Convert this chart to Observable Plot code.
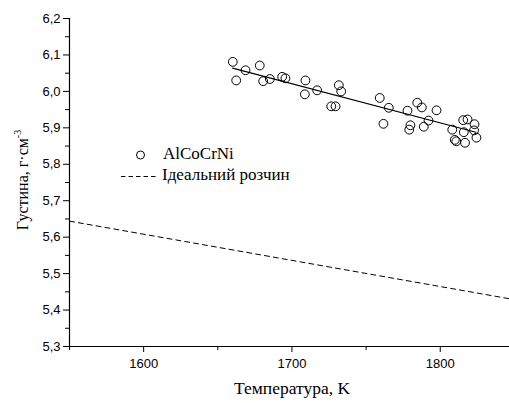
<!DOCTYPE html>
<html><head><meta charset="utf-8">
<script src="https://cdn.jsdelivr.net/npm/d3@7"></script>
<script src="https://cdn.jsdelivr.net/npm/@observablehq/plot@0.6"></script>
<style>body{margin:0;background:#fff}</style>
</head><body><div id="chart"></div>
<script>
// Measured points (AlCoCrNi)
const temperature = [1660.1,1662.4,1668.7,1678.3,1680.6,1685.1,1693.4,1695.6,1709.1,1708.7,1717.0,1726.5,1729.4,1731.6,1733.2,1759.2,1761.7,1765.3,1777.9,1779.9,1779.1,1784.5,1787.6,1788.9,1792.1,1797.5,1808.1,1809.8,1810.8,1815.5,1818.4,1815.9,1816.7,1823.1,1822.8,1824.4];
const density = [6.081,6.030,6.058,6.071,6.028,6.034,6.040,6.036,6.030,5.992,6.003,5.959,5.959,6.017,6.000,5.982,5.911,5.955,5.947,5.907,5.895,5.969,5.956,5.903,5.920,5.948,5.895,5.867,5.863,5.921,5.923,5.888,5.859,5.910,5.893,5.873];
// Fitted line through measurements
const fitT = [1660, 1824];
const fitD = [6.064, 5.888];
// Ideal solution line
const idealT = [1550, 1846.7];
const idealD = [5.644, 5.431];
// Ticks
const xMajor = [1600, 1700, 1800];
const xMinor = [1550, 1650, 1750];
const yMajor = [5.3, 5.4, 5.5, 5.6, 5.7, 5.8, 5.9, 6.0, 6.1, 6.2];
const yMinor = [5.35, 5.45, 5.55, 5.65, 5.75, 5.85, 5.95, 6.05, 6.15];
// Texts
const seriesNames = ["AlCoCrNi", "Ідеальний розчин"];
const xTitle = "Температура, K";
const yTitle = "Густина, г·см";
const yTitleSup = "-3";

const points = temperature.map((t, i) => ({t, d: density[i]}));
const fit = fitT.map((t, i) => ({t, d: fitD[i]}));
const ideal = idealT.map((t, i) => ({t, d: idealD[i]}));
const fmt = d => d.toFixed(1).replace(".", ",");

const W = 509, H = 403, ML = 69, MR = 0, MT = 18, MB = 57;

const chart = Plot.plot({
  width: W, height: H,
  marginLeft: ML, marginRight: MR, marginTop: MT, marginBottom: MB,
  x: {domain: [1550, 1846.7]},
  y: {domain: [5.3, 6.2]},
  style: {fontFamily: "'Liberation Sans', Arial, sans-serif", fontSize: "13px", color: "black", background: "white"},
  marks: [
    Plot.axisX(xMajor, {tickSize: 6, tickPadding: 6, tickFormat: d => String(d), label: null, fontSize: 13}),
    Plot.axisX(xMinor, {tickSize: 4, tickFormat: () => "", label: null}),
    Plot.axisY(yMajor, {tickSize: 6, tickPadding: 3, tickFormat: fmt, label: null, fontSize: 13}),
    Plot.axisY(yMinor, {tickSize: 4, tickFormat: () => "", label: null}),
    Plot.ruleX([1550], {stroke: "black", strokeWidth: 1.2}),
    Plot.ruleY([5.3], {stroke: "black", strokeWidth: 1.2}),
    Plot.line(ideal, {x: "t", y: "d", stroke: "black", strokeWidth: 1, strokeDasharray: "5,4"}),
    Plot.line(fit, {x: "t", y: "d", stroke: "black", strokeWidth: 1.2}),
    Plot.dot(points, {x: "t", y: "d", r: 4.4, stroke: "black", strokeWidth: 1, fill: "none"})
  ]
});

document.getElementById("chart").appendChild(chart);

const svg = d3.select(chart);
const serif = "'Liberation Serif', 'Times New Roman', serif";
// Axis titles
svg.append("text")
  .attr("x", (ML + W - MR) / 2 + 3).attr("y", 390)
  .attr("text-anchor", "middle").attr("dominant-baseline", "middle")
  .style("font-family", serif).style("font-size", "17.5px").attr("fill", "black")
  .text(xTitle);
const yt = svg.append("text")
  .attr("transform", `translate(24,180) rotate(-90)`)
  .attr("text-anchor", "middle").attr("dominant-baseline", "middle")
  .style("font-family", serif).style("font-size", "16px").attr("fill", "black");
yt.append("tspan").text(yTitle);
yt.append("tspan").attr("dy", "-0.5em").style("font-size", "10px").text(yTitleSup);

// Legend
const lg = svg.append("g").style("font-family", serif).style("font-size", "17px").attr("text-anchor", "start");
lg.append("circle").attr("cx", 140.5).attr("cy", 155).attr("r", 4).attr("fill", "none").attr("stroke", "black");
lg.append("text").attr("x", 163).attr("y", 155).attr("text-anchor", "start").attr("dominant-baseline", "middle").attr("fill", "black").text(seriesNames[0]);
lg.append("path").attr("d", "M121,176.5H158")
  .attr("stroke", "black").attr("stroke-width", 1).attr("fill", "none").attr("stroke-dasharray", "4.5,3");
lg.append("text").attr("x", 162).attr("y", 176).attr("text-anchor", "start").attr("dominant-baseline", "middle").attr("fill", "black").text(seriesNames[1]);
</script>
</body></html>
